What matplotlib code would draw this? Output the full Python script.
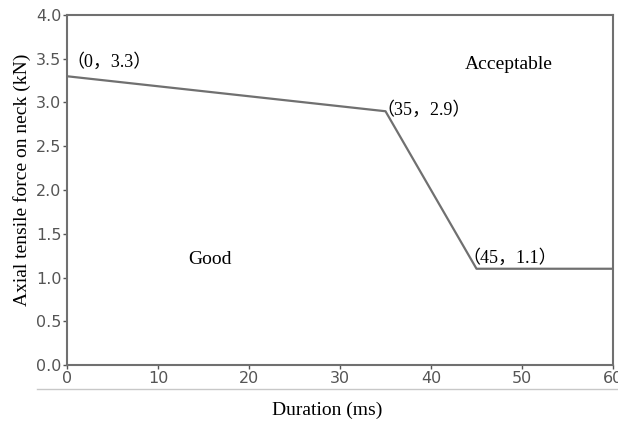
import matplotlib
matplotlib.use("Agg")
import matplotlib.pyplot as plt
from matplotlib.lines import Line2D

duration = [0, 35, 45, 60]
force = [3.3, 2.9, 1.1, 1.1]
point_labels = ["（0，3.3）", "（35，2.9）", "（45，1.1）"]
xticks = [0, 10, 20, 30, 40, 50, 60]
yticks = [0.0, 0.5, 1.0, 1.5, 2.0, 2.5, 3.0, 3.5, 4.0]

serif = ["Liberation Serif", "Noto Sans CJK SC", "DejaVu Serif"]
grey = "#707070"

fig = plt.figure(figsize=(6.18, 4.23), dpi=100)
ax = fig.add_axes([67/618, 1-365/423, (613-67)/618, (365-15)/423])
ax.plot(duration, force, color=grey, lw=1.6)
ax.set_xlim(0, 60)
ax.set_ylim(0, 4.0)
ax.set_xticks(xticks)
ax.set_yticks(yticks)
ax.set_yticklabels([f"{v:.1f}" for v in yticks])
for s in ax.spines.values():
    s.set_color(grey)
    s.set_linewidth(1.5)
ax.tick_params(colors="#555555", labelsize=11.5, length=3, width=1, direction="out", pad=1)
ax.set_xlabel("Duration (ms)", family=serif, fontsize=14)
ax.set_ylabel("Axial tensile force on neck (kN)", family=serif, fontsize=14)
ax.xaxis.set_label_coords((327-67)/546, (365-410)/350)
ax.yaxis.set_label_coords((22-67)/546, (365-180)/350)
ax.xaxis.label.set_va("center")
ax.yaxis.label.set_va("center")

ax.text(-0.1, 3.46, point_labels[0], family=serif, fontsize=13, va="center", ha="left")
ax.text(34.0, 2.91, point_labels[1], family=serif, fontsize=13, va="center", ha="left")
ax.text(43.4, 1.22, point_labels[2], family=serif, fontsize=13, va="center", ha="left")
ax.text(48.5, 3.43, "Acceptable", family=serif, fontsize=14, va="center", ha="center")
ax.text(15.7, 1.21, "Good", family=serif, fontsize=14, va="center", ha="center")

fig.add_artist(Line2D([37/618, 1.0], [1-389/423, 1-389/423], color="#c8c8c8", lw=1, transform=fig.transFigure))

fig.savefig("out.png", dpi=100)
